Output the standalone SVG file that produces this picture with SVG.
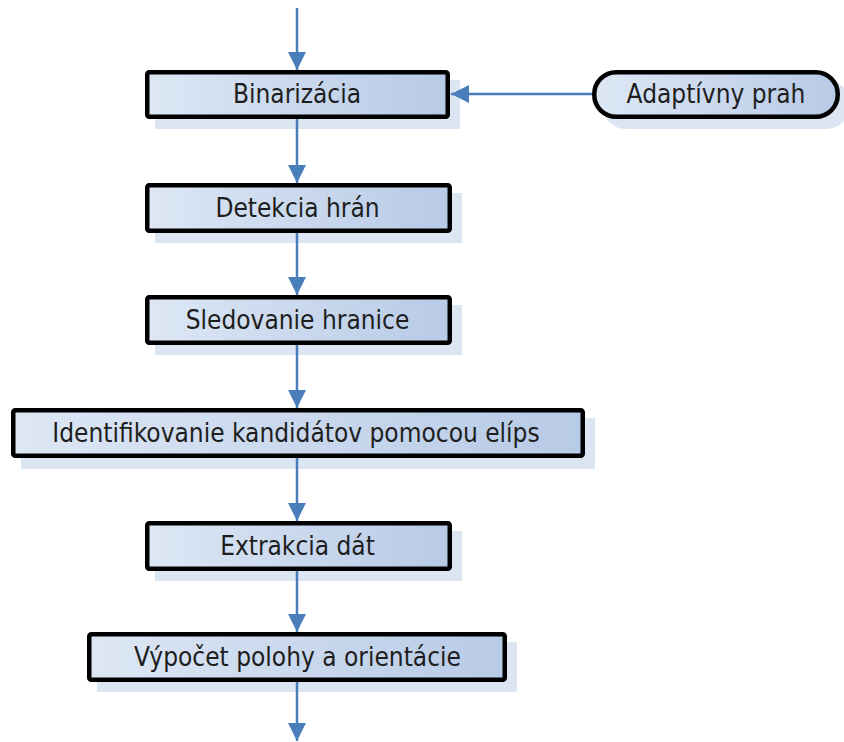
<svg xmlns="http://www.w3.org/2000/svg" width="844" height="742" viewBox="0 0 844 742">
  <defs>
    <linearGradient id="boxFill" x1="0" y1="0" x2="1" y2="0">
      <stop offset="0" stop-color="#dde7f5"/>
      <stop offset="1" stop-color="#b7cae6"/>
    </linearGradient>
    <marker id="arrow" viewBox="0 0 18 18" refX="18" refY="9" markerWidth="18" markerHeight="18" markerUnits="userSpaceOnUse" orient="auto">
      <path d="M0,0 L18,9 L0,18 Z" fill="#4a7ebb"/>
    </marker>
    <style>
      .shadow { fill: #dce5f2; }
      .box { fill: url(#boxFill); stroke: #000; stroke-width: 4.5; }
      .label { font-family: "DejaVu Sans Condensed", "DejaVu Sans", Verdana, sans-serif; font-stretch: condensed; font-size: 26px; fill: #1e1e1e; text-anchor: middle; }
      .conn { stroke: #4a7ebb; stroke-width: 2.5; fill: none; marker-end: url(#arrow); }
    </style>
  </defs>

  <!-- process steps -->
  <g id="binarizacia">
    <rect class="shadow" x="155" y="80" width="305" height="49"/>
    <rect class="box" x="147.25" y="72.25" width="300.5" height="44.5" rx="2"/>
    <text class="label" x="297" y="103">Binarizácia</text>
  </g>
  <g id="adaptivny-prah">
    <rect class="shadow" x="602" y="80" width="248" height="49" rx="24"/>
    <rect class="box" x="594.25" y="72.25" width="243.5" height="44.5" rx="22"/>
    <text class="label" x="716" y="103">Adaptívny prah</text>
  </g>
  <g id="detekcia-hran">
    <rect class="shadow" x="155" y="193" width="307" height="50"/>
    <rect class="box" x="147.25" y="185.25" width="302.5" height="45.5" rx="2"/>
    <text class="label" x="297.5" y="217">Detekcia hrán</text>
  </g>
  <g id="sledovanie-hranice">
    <rect class="shadow" x="155" y="305" width="307" height="50"/>
    <rect class="box" x="147.25" y="297.25" width="302.5" height="45.5" rx="2"/>
    <text class="label" x="297.5" y="329">Sledovanie hranice</text>
  </g>
  <g id="identifikovanie">
    <rect class="shadow" x="21" y="418" width="574" height="51"/>
    <rect class="box" x="13.25" y="410.25" width="569.5" height="45.5" rx="2"/>
    <text class="label" x="296" y="442">Identifikovanie kandidátov pomocou elíps</text>
  </g>
  <g id="extrakcia-dat">
    <rect class="shadow" x="155" y="531" width="307" height="50"/>
    <rect class="box" x="147.25" y="523.25" width="302.5" height="45.5" rx="2"/>
    <text class="label" x="297.5" y="555">Extrakcia dát</text>
  </g>
  <g id="vypocet-polohy">
    <rect class="shadow" x="97" y="642" width="420" height="50"/>
    <rect class="box" x="89.25" y="634.25" width="415.5" height="45.5" rx="2"/>
    <text class="label" x="297.5" y="666">Výpočet polohy a orientácie</text>
  </g>

  <!-- connectors -->
  <g id="connectors">
    <line class="conn" x1="297" y1="8" x2="297" y2="70"/>
    <line class="conn" x1="592" y1="94" x2="451" y2="94"/>
    <line class="conn" x1="297" y1="119" x2="297" y2="183"/>
    <line class="conn" x1="297" y1="233" x2="297" y2="295"/>
    <line class="conn" x1="297" y1="345" x2="297" y2="408"/>
    <line class="conn" x1="297" y1="458" x2="297" y2="521"/>
    <line class="conn" x1="297" y1="571" x2="297" y2="632"/>
    <line class="conn" x1="297" y1="682" x2="297" y2="741"/>
  </g>
</svg>
